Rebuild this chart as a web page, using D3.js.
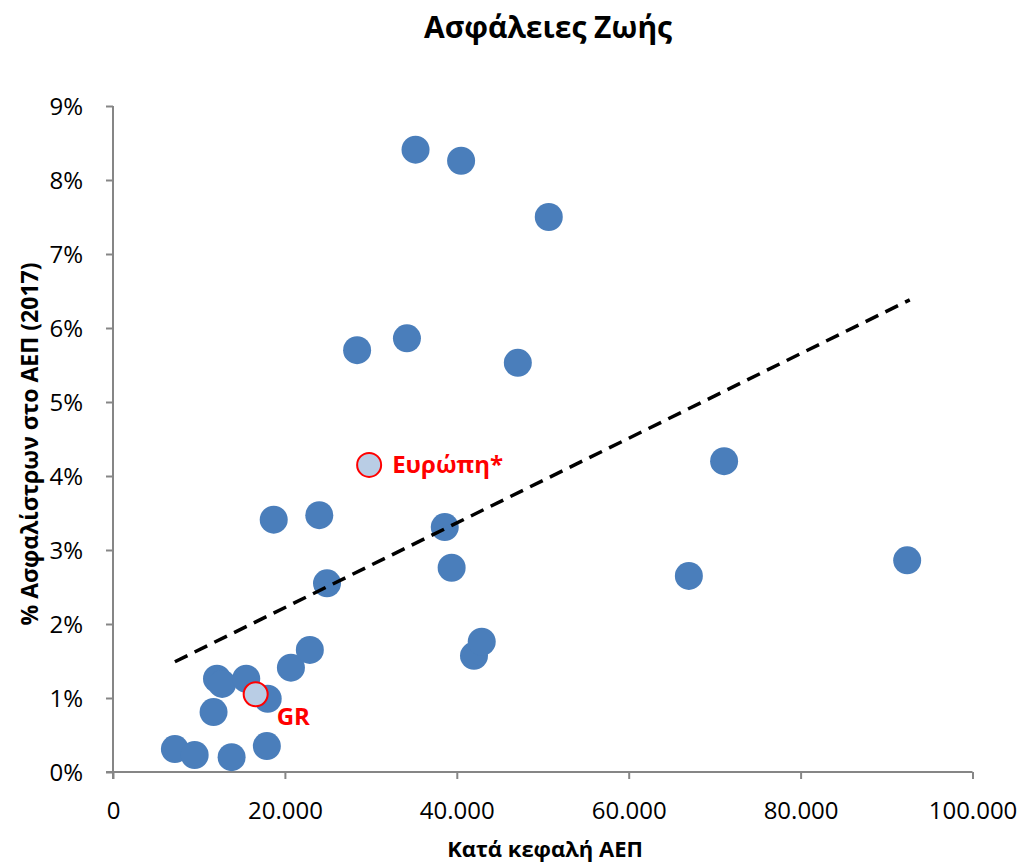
<!DOCTYPE html>
<html><head><meta charset="utf-8">
<script src="https://cdn.jsdelivr.net/npm/d3@7"></script>
<style>body{margin:0;background:#fff}svg{display:block}text{font-family:"Open Sans","Noto Sans",sans-serif}</style>
</head><body>
<svg id="c" width="1025" height="863"></svg>
<script>
// Per-capita GDP (x) and life insurance premiums as % of GDP (y)
const gdp = [7200, 9500, 13800, 17900, 11700, 12100, 12700, 15500, 18000, 20700, 22900, 18700, 24000, 24900, 28400, 34200, 35200, 40500, 50700, 47100, 38600, 39400, 42000, 42900, 71100, 67000, 92400];
const premiums = [0.31, 0.23, 0.20, 0.35, 0.81, 1.26, 1.19, 1.26, 0.99, 1.41, 1.65, 3.41, 3.47, 2.55, 5.70, 5.86, 8.41, 8.26, 7.50, 5.53, 3.31, 2.76, 1.57, 1.76, 4.20, 2.65, 2.86];
const highlightLabels = ["GR", "Ευρώπη*"];
const highlightGdp = [16600, 29800];
const highlightPrem = [1.05, 4.15];
const trendGdp = [7200, 92700];
const trendPrem = [1.49, 6.38];
const xTicks = [0, 20000, 40000, 60000, 80000, 100000];
const yTicks = [0, 1, 2, 3, 4, 5, 6, 7, 8, 9];

const svg = d3.select("#c");
const x = d3.scaleLinear().domain([0, 100000]).range([113, 972.5]);
const y = d3.scaleLinear().domain([0, 9]).range([772, 106]);
const fmt = d => d === 0 ? "0" : d3.format(",")(d).replace(/,/g, ".");

const gx = svg.append("g").attr("transform", "translate(0,772)")
  .call(d3.axisBottom(x).tickValues(xTicks).tickFormat(fmt).tickSize(7));
const gy = svg.append("g").attr("transform", "translate(113,0)")
  .call(d3.axisLeft(y).tickValues(yTicks).tickFormat(d => d + "%").tickSize(7).tickPadding(23));
[gx, gy].forEach(g => {
  g.selectAll("path,line").attr("stroke", "#868686").attr("stroke-width", 2);
  g.selectAll("text").attr("font-size", 24).attr("fill", "#000").style("font-family", "'Open Sans',sans-serif");
});
gx.selectAll("text").attr("y", 47).attr("dy", 0);
gy.selectAll("text").attr("dy", "0.36em");
gx.select(".domain").attr("d", "M106,0H972.5");
gy.select(".domain").attr("d", "M0,779V106");

svg.append("g").selectAll("circle").data(gdp).join("circle")
  .attr("cx", d => x(d)).attr("cy", (d, i) => y(premiums[i])).attr("r", 14)
  .attr("fill", "#4A7EBB");

svg.append("line")
  .attr("x1", x(trendGdp[0])).attr("y1", y(trendPrem[0]))
  .attr("x2", x(trendGdp[1])).attr("y2", y(trendPrem[1]))
  .attr("stroke", "#000").attr("stroke-width", 3.5).attr("stroke-dasharray", "14 8");

svg.append("g").selectAll("circle").data(highlightGdp).join("circle")
  .attr("cx", d => x(d)).attr("cy", (d, i) => y(highlightPrem[i])).attr("r", 12)
  .attr("fill", "#B9CDE5").attr("stroke", "#FF0000").attr("stroke-width", 2);

const lblOff = [[21, 31], [23, 8]];
svg.append("g").selectAll("text").data(highlightLabels).join("text")
  .attr("x", (d, i) => x(highlightGdp[i]) + lblOff[i][0])
  .attr("y", (d, i) => y(highlightPrem[i]) + lblOff[i][1])
  .attr("fill", "#FF0000").attr("font-weight", "bold").attr("font-size", 24).text(d => d);

svg.append("text").attr("x", 548).attr("y", 38).attr("text-anchor", "middle")
  .attr("font-weight", "bold").attr("font-size", 30).text("Ασφάλειες Ζωής");
svg.append("text").attr("x", 545).attr("y", 857).attr("text-anchor", "middle")
  .attr("font-weight", "bold").attr("font-size", 22).text("Κατά κεφαλή ΑΕΠ");
svg.append("text").attr("transform", "translate(38,444) rotate(-90)").attr("text-anchor", "middle")
  .attr("font-weight", "bold").attr("font-size", 23).text("% Ασφαλίστρων στο ΑΕΠ (2017)");
</script>
</body></html>
